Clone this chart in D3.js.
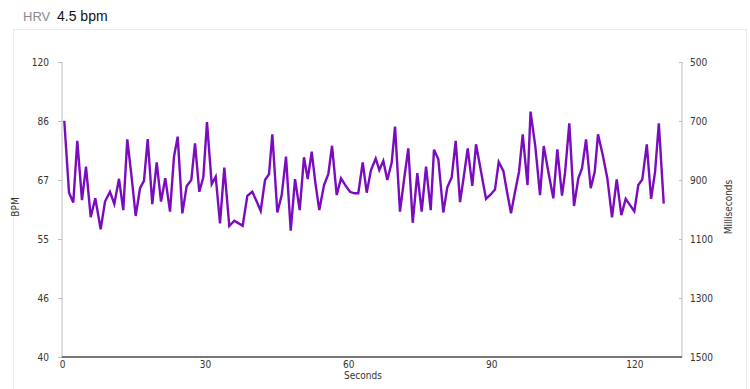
<html>
<head>
    <script src="https://d3js.org/d3.v7.min.js"></script>
    <style>
        body { margin: 0; background: #fff; }
        text { font-family: Tahoma, "DejaVu Sans Condensed", "DejaVu Sans", sans-serif; }
    </style>
</head>
<body>
    <svg id="chart" width="750" height="389"></svg>
    <script>
        // seconds at each beat and its R-R interval (ms)
        var seconds = [0.48, 1.47, 2.37, 3.21, 4.19, 5.03, 6.02, 6.98, 8.11, 9.02,
            10.06, 10.97, 11.95, 12.85, 13.69, 14.62, 15.45, 16.36, 17.19, 17.97,
            18.93, 19.86, 20.76, 21.66, 22.65, 23.48, 24.26, 25.23, 26.15, 27.11,
            27.89, 28.79, 29.63, 30.40, 31.39, 32.23, 33.13, 34.03, 35.08, 36.13,
            37.05, 37.89, 38.86, 39.90, 40.83, 41.66, 42.57, 43.41, 44.10, 45.15,
            46.07, 46.97, 47.96, 48.86, 49.84, 50.74, 51.52, 52.36, 53.11, 53.95,
            54.94, 55.84, 56.62, 57.60, 58.50, 59.49, 60.39, 61.29, 62.13, 63.05,
            63.89, 64.79, 65.78, 66.53, 67.37, 68.21, 69.13, 69.83, 70.87, 71.71,
            72.61, 73.54, 74.50, 75.42, 76.33, 77.31, 78.00, 78.91, 79.95, 80.79,
            81.71, 82.55, 83.46, 84.29, 85.07, 86.03, 86.81, 87.80, 88.91, 89.89,
            90.79, 91.57, 92.54, 93.31, 94.15, 94.93, 95.83, 96.60, 97.61, 98.24,
            99.25, 100.23, 101.01, 101.97, 103.02, 103.86, 104.84, 105.47, 106.37, 107.36,
            108.26, 109.04, 109.88, 110.86, 111.70, 112.39, 113.38, 114.34, 115.33, 116.31,
            117.28, 118.20, 119.10, 120.00, 120.84, 121.68, 122.62, 123.52, 124.36, 125.14,
            126.17];
        var rrMs = [699, 943, 976, 767, 968, 855, 1026, 962, 1067, 973,
            940, 981, 896, 1002, 762, 894, 1022, 928, 903, 761,
            982, 840, 973, 894, 1007, 821, 753, 1013, 920, 900,
            776, 940, 891, 704, 914, 889, 1047, 858, 1056, 1038,
            1047, 1055, 954, 940, 973, 1005, 900, 880, 745, 1010,
            951, 821, 1072, 897, 1002, 823, 897, 804, 908, 1002,
            917, 880, 784, 951, 894, 920, 940, 945, 945, 840,
            943, 866, 827, 866, 835, 900, 841, 719, 1007, 900,
            793, 1045, 877, 1007, 855, 1002, 797, 830, 1010, 925,
            891, 767, 975, 883, 793, 920, 779, 866, 964, 949,
            932, 839, 869, 940, 1013, 945, 872, 745, 917, 668,
            787, 951, 785, 872, 962, 796, 953, 876, 708, 988,
            894, 860, 762, 928, 872, 745, 815, 894, 1027, 898,
            1019, 964, 985, 1006, 917, 898, 779, 964, 872, 708,
            980];
        var msTicks = [500, 700, 900, 1100, 1300, 1500];
        var secTicks = [0, 30, 60, 90, 120];
        var hrvValue = "4.5 bpm";

        var svg = d3.select("#chart");

        // panel frame
        svg.append("rect")
            .attr("x", 13.5).attr("y", 29.5)
            .attr("width", 733).attr("height", 380)
            .attr("fill", "none")
            .attr("stroke", "#ebebeb");

        svg.append("text")
            .attr("x", 23).attr("y", 21)
            .style("font-family", "'Liberation Sans', Arial, sans-serif")
            .style("font-size", "13px")
            .attr("fill", "#8a8a8a")
            .text("HRV");
        svg.append("text")
            .attr("x", 57).attr("y", 21)
            .style("font-family", "'Liberation Sans', Arial, sans-serif")
            .style("font-size", "14px")
            .attr("fill", "#111")
            .text(hrvValue);

        var x = d3.scaleLinear().domain([0, 130]).range([62, 682]);
        var y = d3.scaleLinear().domain([500, 1500]).range([62, 357]);

        var leftAxis = d3.axisLeft(y)
            .tickValues(msTicks)
            .tickSize(4)
            .tickFormat(function (d) { return Math.round(60000 / d); });
        var rightAxis = d3.axisRight(y)
            .tickValues(msTicks)
            .tickSize(3)
            .tickFormat(d3.format("d"));
        var bottomAxis = d3.axisBottom(x)
            .tickValues(secTicks)
            .tickSize(0)
            .tickPadding(4);

        function styleAxis(g, color) {
            g.selectAll("path").attr("stroke", color);
            g.selectAll("line").attr("stroke", color);
            g.selectAll("text")
                .attr("fill", "#333")
                .style("font-size", "10px");
        }

        var gl = svg.append("g").attr("transform", "translate(62,0)").call(leftAxis);
        gl.select(".domain").attr("d", "M0,62V357");
        styleAxis(gl, "#bdbdbd");
        gl.selectAll("text").attr("x", -13);

        var gr = svg.append("g").attr("transform", "translate(682,0)").call(rightAxis);
        gr.select(".domain").attr("d", "M0,62V357");
        styleAxis(gr, "#bdbdbd");
        gr.selectAll("line").attr("x1", -3).attr("x2", 0);
        gr.selectAll("text").attr("x", 8);

        var gb = svg.append("g").attr("transform", "translate(0,357)").call(bottomAxis);
        gb.select(".domain").attr("stroke", "#777").attr("stroke-width", 2);
        styleAxis(gb, "#777");
        gb.select(".domain").attr("d", "M62,0H682");

        svg.append("text")
            .attr("transform", "translate(19,207) rotate(-90)")
            .attr("text-anchor", "middle")
            .style("font-size", "10px")
            .attr("fill", "#333")
            .text("BPM");
        svg.append("text")
            .attr("transform", "translate(732,207) rotate(-90)")
            .attr("text-anchor", "middle")
            .style("font-size", "10px")
            .attr("fill", "#333")
            .text("Milliseconds");
        svg.append("text")
            .attr("x", 363).attr("y", 379)
            .attr("text-anchor", "middle")
            .style("font-size", "10px")
            .attr("fill", "#333")
            .text("Seconds");

        var line = d3.line()
            .x(function (d, i) { return x(seconds[i]); })
            .y(function (d) { return y(d); });

        svg.append("path")
            .datum(rrMs)
            .attr("d", line)
            .attr("fill", "none")
            .attr("stroke", "#7a0cbf")
            .attr("stroke-width", 2.4)
            .attr("stroke-linejoin", "miter");
    </script>
</body>
</html>
